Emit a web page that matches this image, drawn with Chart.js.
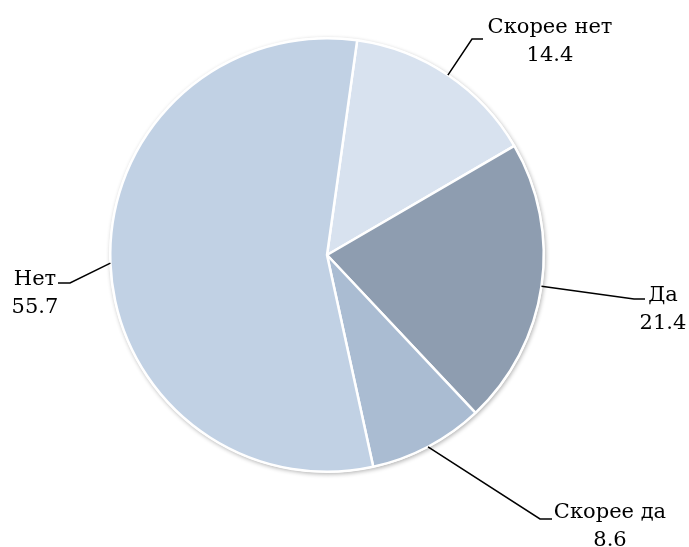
<!DOCTYPE html>
<html>
<head>
<meta charset="utf-8">
<script src="https://cdn.jsdelivr.net/npm/chart.js@4/dist/chart.umd.min.js"></script>
<style>
  html, body { margin: 0; padding: 0; background: #fff; }
  #wrap { width: 689px; height: 547px; position: relative; }
</style>
</head>
<body>
<div id="wrap"><canvas id="pie" width="689" height="547"></canvas></div>
<script>
// данные опроса, %
let labels = ['Скорее нет', 'Да', 'Скорее да', 'Нет'];
let values = [14.4, 21.4, 8.6, 55.7];
let colors = ['#d8e2ef', '#8e9db0', '#aabcd2', '#c1d1e4'];

// куда ставить подписи: излом выноски, конец полки, центр текста
let calloutPos = [
    { ex: 472, ey: 39, hx: 483, tx: 550, ty: 33 },
    { ex: 634, ey: 299, hx: 645, tx: 663, ty: 301 },
    { ex: 540, ey: 519, hx: 552, tx: 610, ty: 518 },
    { ex: 70, ey: 283, hx: 58, tx: 35, ty: 285 }
];

const callouts = {
    id: 'callouts',
    afterDatasetsDraw(chart) {
        let ctx = chart.ctx;
        let meta = chart.getDatasetMeta(0);
        ctx.save();
        meta.data.forEach((arc, i) => {
            let p = arc.getProps(['x', 'y', 'startAngle', 'endAngle', 'outerRadius'], true);
            let mid = (p.startAngle + p.endAngle) / 2;
            let ax = p.x + Math.cos(mid) * p.outerRadius;
            let ay = p.y + Math.sin(mid) * p.outerRadius;
            let c = calloutPos[i];
            ctx.strokeStyle = '#000';
            ctx.lineWidth = 1.5;
            ctx.beginPath();
            ctx.moveTo(ax, ay);
            ctx.lineTo(c.ex, c.ey);
            ctx.lineTo(c.hx, c.ey);
            ctx.stroke();

            ctx.fillStyle = '#000';
            ctx.font = '21px "DejaVu Serif"';
            ctx.textAlign = 'center';
            ctx.textBaseline = 'alphabetic';
            ctx.fillText(labels[i], c.tx, c.ty);
            ctx.fillText(String(values[i]), c.tx, c.ty + 28);
        });
        ctx.restore();
    }
};

// тень только по внешнему краю круга
const shadow = {
    id: 'shadow',
    beforeDatasetsDraw(chart) {
        let arc = chart.getDatasetMeta(0).data[0];
        if (!arc) return;
        let p = arc.getProps(['x', 'y', 'outerRadius'], true);
        let ctx = chart.ctx;
        ctx.save();
        ctx.shadowColor = 'rgba(0,0,0,0.3)';
        ctx.shadowBlur = 4;
        ctx.shadowOffsetX = 1;
        ctx.shadowOffsetY = 1.5;
        ctx.fillStyle = '#ffffff';
        ctx.beginPath();
        ctx.arc(p.x, p.y, p.outerRadius + 1, 0, Math.PI * 2);
        ctx.fill();
        ctx.restore();
    }
};

let ctx = document.getElementById('pie').getContext('2d');
new Chart(ctx, {
    type: 'pie',
    data: {
        labels: labels,
        datasets: [{
            data: values,
            backgroundColor: colors,
            borderColor: '#ffffff',
            borderWidth: 2.5
        }]
    },
    options: {
        responsive: false,
        animation: false,
        devicePixelRatio: 1,
        rotation: 8,
        layout: { padding: { left: 109, right: 144, top: 37, bottom: 74 } },
        plugins: {
            legend: { display: false },
            tooltip: { enabled: false }
        }
    },
    plugins: [shadow, callouts]
});
</script>
</body>
</html>
